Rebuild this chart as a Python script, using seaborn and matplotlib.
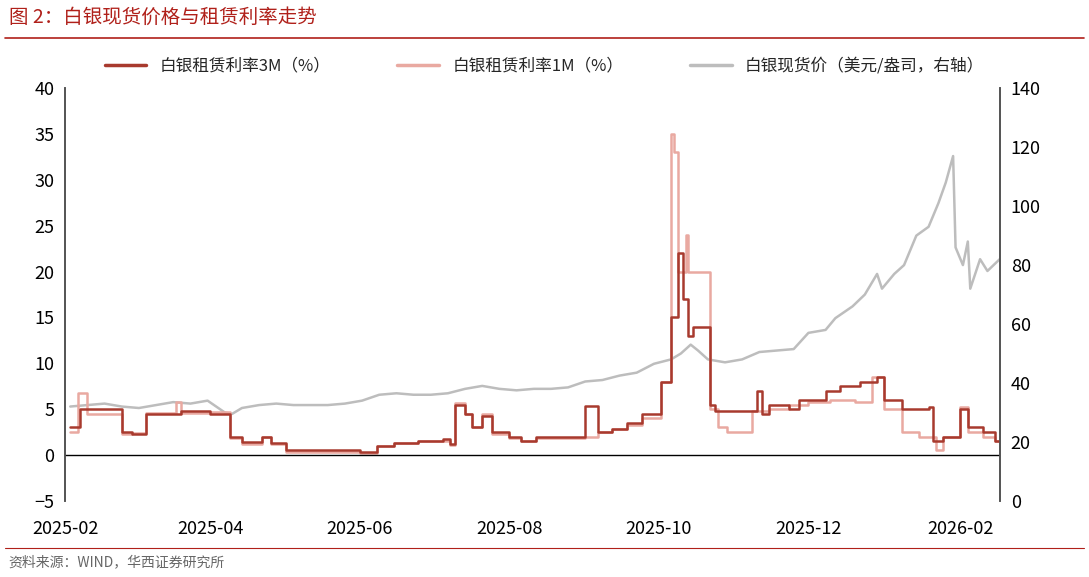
import matplotlib
matplotlib.use("Agg")
import matplotlib.pyplot as plt
import seaborn as sns
import pandas as pd
import matplotlib.dates as mdates

sns.set_theme(style="white")
plt.rcParams['font.family'] = ['Noto Sans CJK SC', 'DejaVu Sans']

d3m = ["2025-02-03","2025-02-07","2025-02-24","2025-02-28","2025-03-06","2025-03-20","2025-04-01","2025-04-09","2025-04-14","2025-04-22","2025-04-26","2025-05-02","2025-06-01","2025-06-08","2025-06-15","2025-06-25","2025-07-05","2025-07-08","2025-07-10","2025-07-14","2025-07-17","2025-07-21","2025-07-25","2025-08-01","2025-08-06","2025-08-12","2025-09-01","2025-09-06","2025-09-12","2025-09-18","2025-09-24","2025-10-02","2025-10-06","2025-10-09","2025-10-11","2025-10-13","2025-10-15","2025-10-22","2025-10-24","2025-11-10","2025-11-12","2025-11-15","2025-11-23","2025-11-27","2025-12-08","2025-12-14","2025-12-22","2025-12-29","2026-01-01","2026-01-08","2026-01-19","2026-01-21","2026-01-25","2026-02-01","2026-02-04","2026-02-10","2026-02-15","2026-02-17"]
v3m = [3.0,5.0,2.5,2.3,4.5,4.8,4.5,2.0,1.4,2.0,1.3,0.5,0.3,1.0,1.3,1.5,1.7,1.2,5.5,4.5,3.0,4.3,2.5,2.0,1.5,2.0,5.3,2.5,2.8,3.5,4.5,8.0,15.0,22.0,17.0,13.0,14.0,5.5,4.8,7.0,4.5,5.5,5.0,6.0,7.0,7.5,8.0,8.5,6.0,5.0,5.2,1.5,2.0,5.0,3.0,2.5,1.5,1.5]

d1m = ["2025-02-03","2025-02-06","2025-02-10","2025-02-24","2025-02-28","2025-03-06","2025-03-18","2025-03-20","2025-04-01","2025-04-09","2025-04-14","2025-04-22","2025-04-26","2025-05-02","2025-06-01","2025-06-08","2025-06-15","2025-06-25","2025-07-05","2025-07-08","2025-07-10","2025-07-14","2025-07-17","2025-07-21","2025-07-25","2025-08-01","2025-08-06","2025-08-12","2025-09-01","2025-09-06","2025-09-12","2025-09-18","2025-09-24","2025-10-02","2025-10-06","2025-10-07","2025-10-09","2025-10-12","2025-10-13","2025-10-15","2025-10-22","2025-10-25","2025-10-29","2025-11-08","2025-11-15","2025-11-23","2025-12-01","2025-12-10","2025-12-20","2025-12-27","2026-01-01","2026-01-08","2026-01-15","2026-01-22","2026-01-25","2026-02-01","2026-02-04","2026-02-10","2026-02-15","2026-02-17"]
v1m = [2.5,6.8,4.5,2.3,2.4,4.6,5.8,4.6,4.7,1.8,1.2,2.0,1.2,0.3,0.2,1.0,1.3,1.5,1.5,1.1,5.7,4.5,3.0,4.5,2.3,1.8,1.5,1.8,2.0,2.5,2.8,3.3,4.0,8.0,35.0,33.0,20.0,24.0,20.0,20.0,5.0,3.0,2.5,4.8,5.0,5.5,5.8,6.0,5.8,8.5,5.0,2.5,2.0,0.5,2.0,5.2,2.5,2.0,1.5,1.5]

dag = ["2025-02-03","2025-02-10","2025-02-17","2025-02-24","2025-03-03","2025-03-10","2025-03-17","2025-03-24","2025-03-31","2025-04-07","2025-04-10","2025-04-14","2025-04-21","2025-04-28","2025-05-05","2025-05-12","2025-05-19","2025-05-26","2025-06-02","2025-06-09","2025-06-16","2025-06-23","2025-06-30","2025-07-07","2025-07-14","2025-07-21","2025-07-28","2025-08-04","2025-08-11","2025-08-18","2025-08-25","2025-09-01","2025-09-08","2025-09-15","2025-09-22","2025-09-29","2025-10-06","2025-10-10","2025-10-14","2025-10-17","2025-10-21","2025-10-28","2025-11-04","2025-11-11","2025-11-18","2025-11-25","2025-12-01","2025-12-08","2025-12-12","2025-12-19","2025-12-24","2025-12-29","2025-12-31","2026-01-05","2026-01-09","2026-01-14","2026-01-19","2026-01-23","2026-01-26","2026-01-29","2026-01-30","2026-02-02","2026-02-04","2026-02-05","2026-02-09","2026-02-12","2026-02-17"]
vag = [32,32.5,33,32,31.5,32.5,33.5,33,34,30,29.5,31.5,32.5,33,32.5,32.5,32.5,33,34,36,36.5,36,36,36.5,38,39,38,37.5,38,38,38.5,40.5,41,42.5,43.5,46.5,48,50,53,51,48,47,48,50.5,51,51.5,57,58,62,66,70,77,72,77,80,90,93,101,108,117,86,80,88,72,82,78,82]

c3, c1, cag = "#A83A2E", "#E9A9A1", "#BDBDBD"
df3 = pd.DataFrame({"date": pd.to_datetime(d3m), "v": v3m})
df1 = pd.DataFrame({"date": pd.to_datetime(d1m), "v": v1m})
dfa = pd.DataFrame({"date": pd.to_datetime(dag), "v": vag})

fig = plt.figure(figsize=(10.89, 5.77), dpi=100)
ax = fig.add_axes([0.06, 0.132, 0.858, 0.715])
ax2 = ax.twinx()
sns.lineplot(data=dfa, x="date", y="v", ax=ax2, color=cag, lw=1.8, legend=False)
sns.lineplot(data=df1, x="date", y="v", ax=ax, color=c1, lw=1.8, drawstyle="steps-post", legend=False)
sns.lineplot(data=df3, x="date", y="v", ax=ax, color=c3, lw=1.8, drawstyle="steps-post", legend=False)
ax.set_zorder(ax2.get_zorder() + 1); ax.patch.set_visible(False)

ax.set_ylim(-5, 40); ax.set_yticks(range(-5, 41, 5))
ax2.set_ylim(0, 140); ax2.set_yticks(range(0, 141, 20))
ax.set_xlim(pd.Timestamp("2025-02-03"), pd.Timestamp("2026-02-17"))
ax.set_xticks(pd.to_datetime(["2025-02-01","2025-04-01","2025-06-01","2025-08-01","2025-10-01","2025-12-01","2026-02-01"]))
ax.xaxis.set_major_formatter(mdates.DateFormatter("%Y-%m"))
ax.axhline(0, color="black", lw=1)
for a in (ax, ax2):
    a.set_xlabel(""); a.set_ylabel("")
    a.tick_params(labelsize=13, length=0, colors="black", pad=8)
    for s in ("top", "bottom"):
        a.spines[s].set_visible(False)
    for s in ("left", "right"):
        a.spines[s].set_color("#555555")
ax.tick_params(axis="x", pad=14)

from matplotlib.lines import Line2D
h = [Line2D([], [], color=c3, lw=2.5), Line2D([], [], color=c1, lw=2.5), Line2D([], [], color=cag, lw=2.5)]
fig.legend(h, ["白银租赁利率3M（%）", "白银租赁利率1M（%）", "白银现货价（美元/盎司，右轴）"], loc="center",
           bbox_to_anchor=(0.5, 0.885), ncol=3, frameon=False, fontsize=12, columnspacing=4, handlelength=2.5)

fig.text(0.008, 0.97, "图 2：白银现货价格与租赁利率走势", color="#B0201A", fontsize=14, va="center")
fig.add_artist(Line2D([0.005, 0.995], [0.935, 0.935], color="#B0201A", lw=1.2))
fig.add_artist(Line2D([0.005, 0.995], [0.05, 0.05], color="#B0201A", lw=0.8))
fig.text(0.008, 0.025, "资料来源：WIND，华西证券研究所", color="#666666", fontsize=10, va="center")
fig.savefig("out.png", dpi=100)
